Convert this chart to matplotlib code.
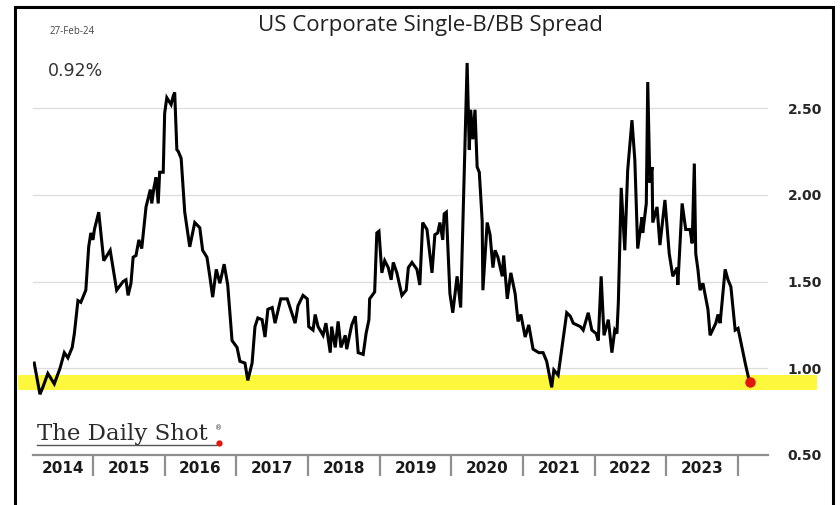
import matplotlib
matplotlib.use("Agg")
import matplotlib.pyplot as plt
from matplotlib.patches import Rectangle
from matplotlib.lines import Line2D

# Weekly-ish spread readings (decimal year, percent)
years = [
    2014.18, 2014.26, 2014.30, 2014.37, 2014.46, 2014.54, 2014.60, 2014.65, 2014.71, 2014.74,
    2014.79, 2014.83, 2014.90, 2014.94, 2014.97, 2015.00, 2015.02, 2015.08, 2015.11, 2015.15,
    2015.24, 2015.33, 2015.42, 2015.46, 2015.49, 2015.53, 2015.56, 2015.60, 2015.64, 2015.68,
    2015.74, 2015.80, 2015.82, 2015.85, 2015.88, 2015.91, 2015.93, 2015.98, 2016.00, 2016.03,
    2016.09, 2016.12, 2016.14, 2016.17, 2016.19, 2016.23, 2016.28, 2016.35, 2016.42, 2016.49,
    2016.53, 2016.59, 2016.63, 2016.67, 2016.72, 2016.77, 2016.83, 2016.88, 2016.94, 2017.01,
    2017.05, 2017.12, 2017.16, 2017.22, 2017.26, 2017.30, 2017.36, 2017.40, 2017.44, 2017.50,
    2017.54, 2017.62, 2017.71, 2017.78, 2017.82, 2017.86, 2017.93, 2017.99, 2018.01, 2018.07,
    2018.10, 2018.14, 2018.21, 2018.25, 2018.31, 2018.33, 2018.38, 2018.42, 2018.46, 2018.52,
    2018.54, 2018.61, 2018.66, 2018.70, 2018.77, 2018.81, 2018.85, 2018.86, 2018.93, 2018.96,
    2018.99, 2019.03, 2019.07, 2019.12, 2019.16, 2019.19, 2019.24, 2019.31, 2019.37, 2019.40,
    2019.45, 2019.52, 2019.56, 2019.60, 2019.66, 2019.73, 2019.77, 2019.81, 2019.84, 2019.88,
    2019.90, 2019.93, 2019.98, 2020.02, 2020.08, 2020.13, 2020.22, 2020.25, 2020.27, 2020.30,
    2020.33, 2020.36, 2020.39, 2020.43, 2020.44, 2020.50, 2020.54, 2020.58, 2020.61, 2020.65,
    2020.71, 2020.73, 2020.78, 2020.83, 2020.89, 2020.93, 2020.97, 2021.03, 2021.08, 2021.14,
    2021.22, 2021.28, 2021.33, 2021.40, 2021.43, 2021.49, 2021.54, 2021.61, 2021.66, 2021.70,
    2021.80, 2021.84, 2021.91, 2021.96, 2022.02, 2022.05, 2022.09, 2022.13, 2022.19, 2022.24,
    2022.28, 2022.31, 2022.33, 2022.37, 2022.42, 2022.46, 2022.52, 2022.56, 2022.60, 2022.66,
    2022.67, 2022.72, 2022.74, 2022.77, 2022.80, 2022.81, 2022.87, 2022.91, 2022.98, 2023.04,
    2023.09, 2023.15, 2023.16, 2023.22, 2023.27, 2023.33, 2023.36, 2023.39, 2023.41, 2023.44,
    2023.47, 2023.51, 2023.58, 2023.61, 2023.69, 2023.72, 2023.75, 2023.82, 2023.86, 2023.90,
    2023.96, 2024.00, 2024.04, 2024.10, 2024.16,
]
spread = [
    1.03, 0.85, 0.89, 0.97, 0.91, 1.00, 1.09, 1.06, 1.12, 1.20,
    1.39, 1.38, 1.45, 1.70, 1.78, 1.74, 1.80, 1.90, 1.78, 1.62,
    1.68, 1.45, 1.50, 1.51, 1.42, 1.49, 1.64, 1.65, 1.74, 1.69,
    1.93, 2.03, 1.95, 2.04, 2.10, 1.95, 2.13, 2.13, 2.47, 2.56,
    2.52, 2.57, 2.59, 2.26, 2.25, 2.21, 1.90, 1.70, 1.84, 1.81,
    1.68, 1.64, 1.53, 1.41, 1.57, 1.49, 1.60, 1.48, 1.16, 1.12,
    1.04, 1.03, 0.93, 1.03, 1.24, 1.29, 1.28, 1.18, 1.34, 1.35,
    1.26, 1.40, 1.40, 1.31, 1.26, 1.36, 1.42, 1.40, 1.24, 1.22,
    1.31, 1.24, 1.19, 1.26, 1.09, 1.24, 1.12, 1.27, 1.12, 1.19,
    1.11, 1.25, 1.30, 1.09, 1.08, 1.20, 1.28, 1.40, 1.44, 1.78,
    1.79, 1.55, 1.62, 1.58, 1.51, 1.61, 1.55, 1.42, 1.45, 1.58,
    1.61, 1.57, 1.48, 1.84, 1.80, 1.55, 1.77, 1.78, 1.84, 1.74,
    1.89, 1.90, 1.43, 1.32, 1.53, 1.35, 2.76, 2.26, 2.49, 2.32,
    2.49, 2.16, 2.13, 1.85, 1.45, 1.84, 1.77, 1.58, 1.68, 1.64,
    1.53, 1.65, 1.40, 1.55, 1.43, 1.27, 1.31, 1.18, 1.25, 1.11,
    1.09, 1.09, 1.04, 0.89, 0.99, 0.96, 1.11, 1.32, 1.30, 1.26,
    1.24, 1.22, 1.32, 1.22, 1.20, 1.16, 1.53, 1.19, 1.28, 1.09,
    1.22, 1.20, 1.38, 2.04, 1.68, 2.14, 2.43, 2.20, 1.69, 1.87,
    1.78, 1.95, 2.65, 2.07, 2.16, 1.84, 1.93, 1.71, 1.97, 1.66,
    1.53, 1.58, 1.48, 1.95, 1.80, 1.80, 1.72, 2.18, 1.66, 1.57,
    1.45, 1.49, 1.34, 1.19, 1.26, 1.31, 1.26, 1.57, 1.51, 1.47,
    1.22, 1.23, 1.15, 1.03, 0.92,
]
year_labels = ["2014", "2015", "2016", "2017", "2018", "2019", "2020", "2021", "2022", "2023"]
year_bounds = [2015, 2016, 2017, 2018, 2019, 2020, 2021, 2022, 2023, 2024]
y_ticks = [0.5, 1.0, 1.5, 2.0, 2.5]
band_low, band_high = 0.875, 0.96
latest_label = "0.92%"
as_of = "27-Feb-24"

W, H = 840, 505
fig = plt.figure(figsize=(W / 100, H / 100), dpi=100)
fig.patch.set_facecolor("white")

x_left, x_right = 2014.163, 2024.418
ax = fig.add_axes([33 / W, 50 / H, 735 / W, 399 / H])
ax.set_xlim(x_left, x_right)
ax.set_ylim(0.5, 2.8)

# horizontal grid
for yv in y_ticks[1:]:
    ax.axhline(yv, color="#dcdcdc", lw=0.9, zorder=1)

# highlighted band near the lows
ax.axhspan(band_low, band_high, xmin=-0.02, xmax=1.067, color="#FEF83C",
           lw=0, zorder=0, clip_on=False)

ax.plot(years, spread, color="black", lw=2.2, solid_joinstyle="miter", zorder=3)
ax.plot(years[-1], spread[-1], "o", color="#E3170A", ms=6.5, zorder=4, clip_on=False)

for s in ["top", "left", "right"]:
    ax.spines[s].set_visible(False)
ax.spines["bottom"].set_color("#8f8f8f")
ax.spines["bottom"].set_linewidth(1.6)

# right-hand value axis
ax.set_yticks(y_ticks)
ax.set_yticklabels([f"{v:.2f}" for v in y_ticks])
ax.yaxis.tick_right()
ax.tick_params(axis="y", length=0, pad=14, labelsize=10, labelcolor="#262626")
for lab in ax.get_yticklabels():
    lab.set_fontweight("bold")
    lab.set_fontfamily("DejaVu Sans")

# year separators and centred year labels
ax.set_xticks(year_bounds)
ax.set_xticklabels([])
ax.tick_params(axis="x", which="major", direction="out", length=15, width=1.6,
               color="#8f8f8f")
mids = [(max(b - 1, x_left) + b) / 2 for b in year_bounds]
ax.set_xticks(mids, minor=True)
ax.set_xticklabels(year_labels, minor=True)
ax.tick_params(axis="x", which="minor", length=0, pad=4, labelsize=11,
               labelcolor="#1a1a1a")
for lab in ax.get_xticklabels(minor=True):
    lab.set_fontweight("bold")
    lab.set_fontfamily("DejaVu Sans")

# titles and annotations
fig.text(430 / W, 1 - 25 / H, "US Corporate Single-B/BB Spread", ha="center",
         va="center", fontsize=16, color="#222222", family="Open Sans")
fig.text(50 / W, 1 - 31 / H, as_of, ha="left", va="center", fontsize=7,
         color="#444444", family="Open Sans")
fig.text(48 / W, 1 - 71 / H, latest_label, ha="left", va="center", fontsize=12.5,
         color="#333333", family="DejaVu Sans")

# logo
fig.text(37 / W, 1 - 440 / H, "The Daily Shot", ha="left", va="baseline",
         fontsize=16.5, color="#2b2b2b", family="DejaVu Serif")
fig.text(215 / W, 1 - 428 / H, "®", ha="left", va="center", fontsize=5,
         color="#2b2b2b", family="DejaVu Sans")
fig.add_artist(Line2D([37 / W, 216 / W], [1 - 445 / H, 1 - 445 / H],
                      color="#555555", lw=1.0, transform=fig.transFigure))
fig.add_artist(Line2D([219 / W], [1 - 443 / H], marker="o", ms=3.5,
                      color="#E3170A", transform=fig.transFigure))

# outer frame
fig.add_artist(Rectangle((15 / W, -0.05), (833 - 15) / W, (1 - 7 / H) + 0.05,
                         fill=False, ec="black", lw=2.2, transform=fig.transFigure,
                         clip_on=False))

fig.savefig("out.png", dpi=100, facecolor="white")
